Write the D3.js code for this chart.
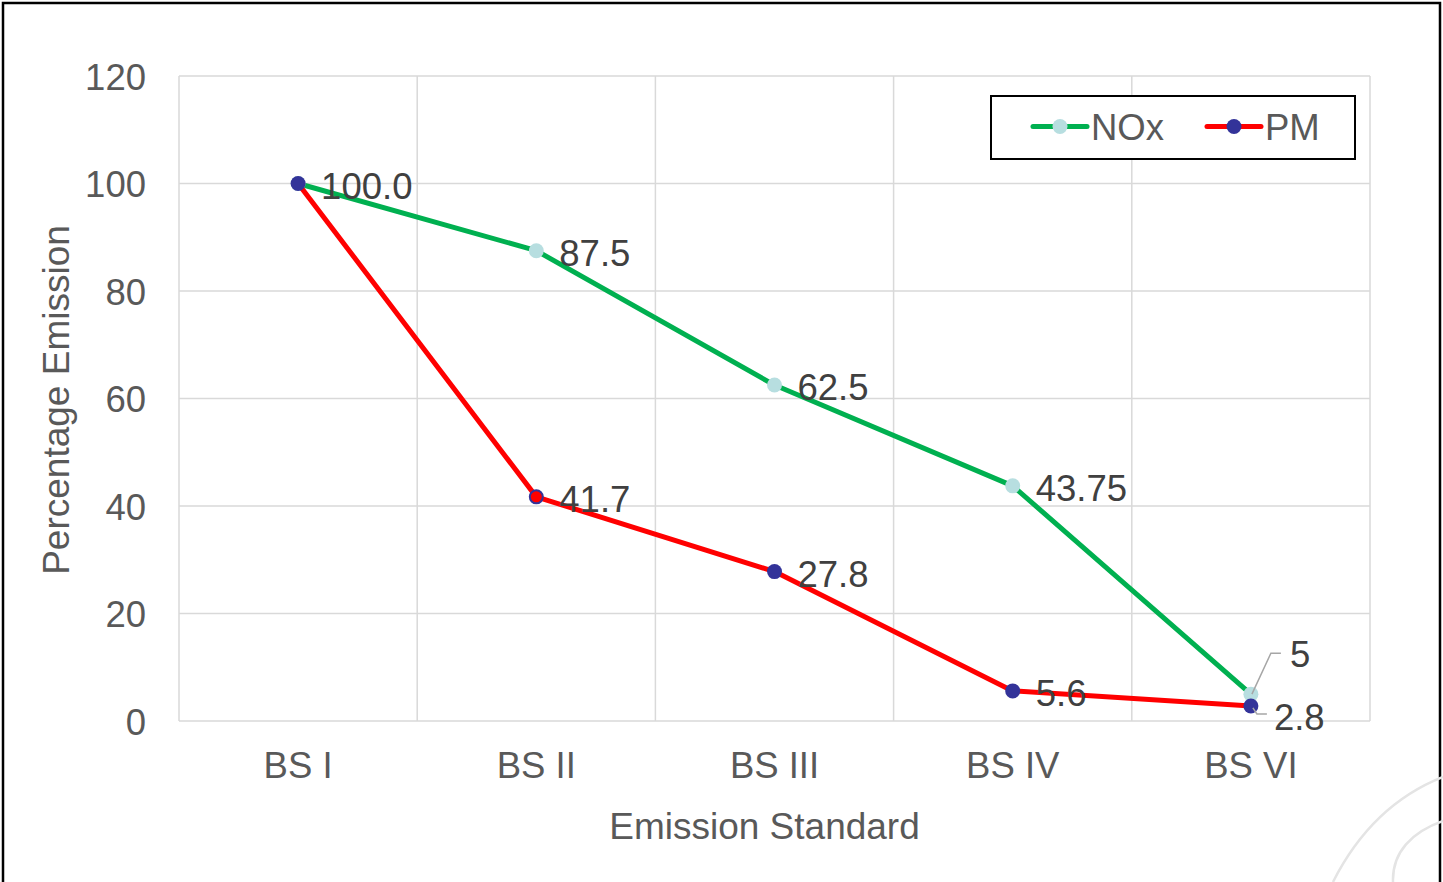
<!DOCTYPE html>
<html>
<head>
<meta charset="utf-8">
<script src="https://cdn.jsdelivr.net/npm/d3@7/dist/d3.min.js"></script>
<style>
  html, body { margin: 0; padding: 0; background: #fff; }
  svg { display: block; font-family: "Liberation Sans", Arial, sans-serif; }
</style>
</head>
<body>
<script>
// Emission standards and their relative emission levels (BS I = 100)
const categories = ["BS I", "BS II", "BS III", "BS IV", "BS VI"];
const noxValues = [100, 87.5, 62.5, 43.75, 5];
const pmValues = [100, 41.7, 27.8, 5.6, 2.8];
const noxLabels = [null, "87.5", "62.5", "43.75", "5"];
const pmLabels = ["100.0", "41.7", "27.8", "5.6", "2.8"];
const yTicks = [0, 20, 40, 60, 80, 100, 120];
const seriesNames = ["NOx", "PM"];

const W = 1443, H = 882;
const FONT = 36.5;
const TITLE_FONT = 37;
const plot = { left: 179, right: 1370, top: 76, bottom: 721 };

const svg = d3.select("body").append("svg").attr("width", W).attr("height", H);

const x = d3.scaleBand().domain(categories).range([plot.left, plot.right]).paddingInner(0).paddingOuter(0);
const y = d3.scaleLinear().domain([0, 120]).range([plot.bottom, plot.top]);
const cx = c => x(c) + x.bandwidth() / 2;

// outer frame (open at the bottom)
svg.append("path")
  .attr("d", `M3,${H} V3 H1440 V${H}`)
  .attr("fill", "none").attr("stroke", "#000").attr("stroke-width", 2.5);

// faint decorative arcs in the lower right corner
svg.append("path").attr("d", "M1333,882 Q1372,805 1443,777")
  .attr("fill", "none").attr("stroke", "#e4e4e4").attr("stroke-width", 2.5);
svg.append("path").attr("d", "M1393,882 C1392,852 1412,832 1443,821")
  .attr("fill", "none").attr("stroke", "#e4e4e4").attr("stroke-width", 2.5);

const grid = svg.append("g").attr("stroke", "#d9d9d9").attr("stroke-width", 1.5);
// horizontal gridlines
grid.selectAll("line.h").data(yTicks).join("line")
  .attr("x1", plot.left).attr("x2", plot.right)
  .attr("y1", d => y(d)).attr("y2", d => y(d));
// vertical gridlines at category boundaries
const bounds = categories.map(c => x(c)).concat([x(categories[categories.length - 1]) + x.bandwidth()]);
grid.selectAll("line.v").data(bounds).join("line")
  .attr("x1", d => d).attr("x2", d => d)
  .attr("y1", plot.top).attr("y2", plot.bottom);

// y axis tick labels
const yAxis = svg.append("g")
  .attr("transform", `translate(${plot.left},0)`)
  .call(d3.axisLeft(y).tickValues(yTicks).tickSize(0).tickPadding(33));
yAxis.select(".domain").remove();
yAxis.selectAll("text")
  .attr("font-size", FONT).attr("font-family", "Liberation Sans, Arial, sans-serif")
  .attr("fill", "#595959").attr("dy", "0.36em");

// x axis tick labels
const xAxis = svg.append("g")
  .attr("transform", `translate(0,${plot.bottom})`)
  .call(d3.axisBottom(x).tickSize(0).tickPadding(31));
xAxis.select(".domain").remove();
xAxis.selectAll("text")
  .attr("font-size", FONT).attr("font-family", "Liberation Sans, Arial, sans-serif")
  .attr("fill", "#595959").attr("dy", "0.71em");

// axis titles
svg.append("text")
  .attr("x", (plot.left + plot.right) / 2 - 10).attr("y", 839)
  .attr("text-anchor", "middle").attr("font-size", TITLE_FONT).attr("fill", "#595959")
  .text("Emission Standard");
svg.append("text")
  .attr("transform", "translate(69,400) rotate(-90)")
  .attr("text-anchor", "middle").attr("font-size", TITLE_FONT).attr("fill", "#595959")
  .text("Percentage Emission");

const line = d3.line().x((d, i) => cx(categories[i])).y(d => y(d));

// NOx series
svg.append("path").datum(noxValues).attr("d", line)
  .attr("fill", "none").attr("stroke", "#00b050").attr("stroke-width", 5).attr("stroke-linejoin", "round");
svg.append("g").selectAll("circle").data(noxValues).join("circle")
  .attr("cx", (d, i) => cx(categories[i])).attr("cy", d => y(d)).attr("r", 7.5)
  .attr("fill", "#b7dee0");

// PM series
svg.append("path").datum(pmValues).attr("d", line)
  .attr("fill", "none").attr("stroke", "#ff0000").attr("stroke-width", 5).attr("stroke-linejoin", "round");
svg.append("g").selectAll("circle").data(pmValues).join("circle")
  .attr("cx", (d, i) => cx(categories[i])).attr("cy", d => y(d))
  .attr("r", (d, i) => i === 1 ? 6.5 : 7.5)
  .attr("fill", (d, i) => i === 1 ? "#ff0000" : "#333399")
  .attr("stroke", "#333399").attr("stroke-width", (d, i) => i === 1 ? 2 : 0);

// data labels
const labels = svg.append("g").attr("font-size", FONT).attr("fill", "#404040");
const last = categories.length - 1;
function addLabels(values, texts) {
  values.forEach((v, i) => {
    if (!texts[i] || i === last) return;
    labels.append("text")
      .attr("x", cx(categories[i]) + 23).attr("y", y(v) + 15)
      .text(texts[i]);
  });
}
addLabels(noxValues, noxLabels);
addLabels(pmValues, pmLabels);

// last-point labels moved off their markers, with leader lines
const px = cx(categories[last]);
const nY = y(noxValues[last]), pY = y(pmValues[last]);
const leaders = svg.append("g").attr("fill", "none").attr("stroke", "#a6a6a6").attr("stroke-width", 1.5);
leaders.append("path").attr("d", `M${px + 1},${nY} L${px + 20},${nY - 41} H${px + 30}`);
leaders.append("path").attr("d", `M${px + 2},${pY + 2} L${px + 6},${pY + 8} H${px + 16}`);
labels.append("text").attr("x", px + 39).attr("y", nY - 27).text(noxLabels[last]);
labels.append("text").attr("x", px + 23).attr("y", pY + 24).text(pmLabels[last]);

// legend
const lg = svg.append("g");
lg.append("rect").attr("x", 991).attr("y", 96).attr("width", 364).attr("height", 63)
  .attr("fill", "#fff").attr("stroke", "#000").attr("stroke-width", 2);
const legendItems = [
  { name: seriesNames[0], x: 1033, stroke: "#00b050", fill: "#b7dee0" },
  { name: seriesNames[1], x: 1207, stroke: "#ff0000", fill: "#333399" }
];
legendItems.forEach(it => {
  lg.append("line").attr("x1", it.x).attr("x2", it.x + 54).attr("y1", 126.5).attr("y2", 126.5)
    .attr("stroke", it.stroke).attr("stroke-width", 5).attr("stroke-linecap", "round");
  lg.append("circle").attr("cx", it.x + 27).attr("cy", 126.5).attr("r", 7.5).attr("fill", it.fill);
  lg.append("text").attr("x", it.x + 58).attr("y", 139.5).attr("font-size", FONT).attr("fill", "#595959").text(it.name);
});
</script>
</body>
</html>
